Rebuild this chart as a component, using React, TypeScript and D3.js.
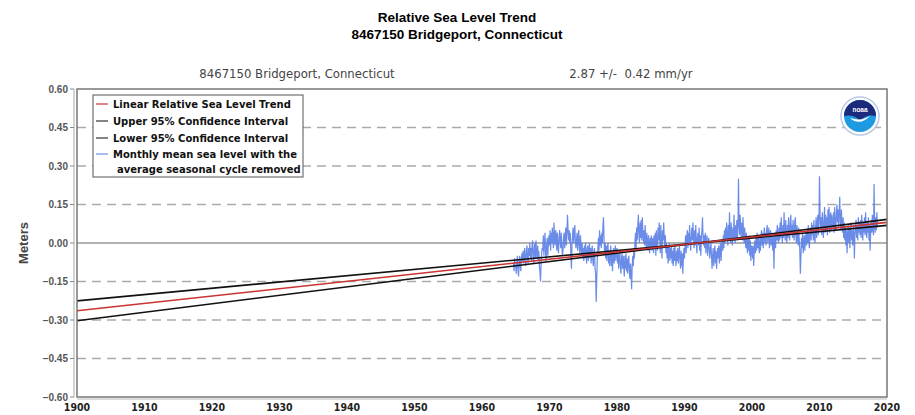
import React from "react";
import * as d3 from "d3";

const title1 = "Relative Sea Level Trend";
const title2 = "8467150 Bridgeport, Connecticut";
const subStation = "8467150 Bridgeport, Connecticut";
const subRate = "2.87 +/-  0.42 mm/yr";
const yTicks = [0.6, 0.45, 0.3, 0.15, 0, -0.15, -0.3, -0.45, -0.6];
const xTicks = [1900, 1910, 1920, 1930, 1940, 1950, 1960, 1970, 1980, 1990, 2000, 2010, 2020];
const legendLabels = [
  "Linear Relative Sea Level Trend",
  "Upper 95% Confidence Interval",
  "Lower 95% Confidence Interval",
  "Monthly mean sea level with the",
  "average seasonal cycle removed",
];

// trend: mm/yr, pivot year, value at pivot (m)
const trendRate = 2.87;
const trendCI = 0.42;
const trendPivotYear = 1992;
const trendPivotValue = 0.0;

// monthly mean sea level (cm), starting Sep 1964
const mslStart = 1964 + 8 / 12;
const msl1960s = [
  -8, -11, -6, -9,
  -9, -12, -7, -5, -10, -13, -8, -5, -9, -11, -6, -4,
  -7, -3, -8, -4, -2, -7, -9, -3, -1, -6, -8, -2,
  -5, 0, -6, -2, -7, -1, 1, -5, -8, -2, 0, -6,
  1, -4, -6, -1, -7, -3, -9, -11, -15, -8, -4, -2,
  -3, 3, -5, 0, 4, -4, -7, -1, 2, -5, 0, 3,
];
const msl1970s = [
  -1, 5, -3, 4, 0, 6, 1, -2, 8, 2, -1, 5,
  3, -3, 4, -1, -4, 2, 5, 1, -2, 4, -1, -5,
  -3, 2, 4, -2, 3, 6, -1, 4, 11, 5, 1, 5,
  0, 4, -5, -10, -1, 3, 6, 0, 4, 7, 1, -2,
  1, 4, -3, 2, 5, -2, -4, 3, -1, -5, 0, -6,
  -2, -7, -1, -6, 0, -5, -8, -2, -1, -7, -3, 0,
  -6, -2, -8, -3, -1, -7, -9, -3, -2, -10, -12, -23,
  -14, -6, -2, 2, -3, 5, -1, 3, -2, 4, 0, 7,
  10, 1, -4, 0, -6, -1, -7, -2, 0, -8, -3, -9,
  -4, -1, -9, -3, -11, -5, -2, -8, -4, -1, -7, -3,
];
const msl1980s = [
  -2, -8, -4, -10, -5, -3, -9, -12, -6, -4, -10, -5,
  -9, -13, -5, -10, -4, -11, -6, -12, -7, -5, -11, -14,
  -8, -12, -18, -9, -5, -9, -2, -6, 1, 4, -2, 6,
  1, 7, 11, 3, 0, 8, 2, 9, 1, 10, 4, 0,
  5, -1, 7, 1, -2, 4, 0, -3, 3, -1, -4, 2,
  -2, 3, -3, 1, 2, -4, 3, -2, 4, -5, 5, 0,
  -3, 6, 1, 8, 2, -4, 7, 0, -6, 5, 1, 8,
  2, -2, 3, -4, 0, -6, -1, -8, -3, 0, -7, -2,
  -6, -1, -8, -3, -9, -2, -7, -1, -6, -9, -3, -7,
  -2, -8, -4, -1, -7, -10, -3, -9, -4, -12, -6, -2,
];
const msl1990s = [
  -6, -1, 3, -4, 2, 5, -2, 4, -1, 7, 1, -3,
  2, 6, 1, 8, 2, -2, 5, -1, 7, 1, -4, 2,
  4, -1, 6, -3, 3, -5, 2, 5, 10, 2, -1, 3,
  -2, 4, -4, 1, 3, -5, 0, 2, -3, -6, -2, 0,
  -5, -10, -5, -2, -9, -4, -1, -8, -3, -10, -5, -2,
  -6, -1, -8, -3, 0, -7, -2, 1, -3, 3, -2, 5,
  0, 6, 1, 8, 2, -1, 7, 1, 12, 3, 0, 8,
  2, -1, 6, 1, 11, 3, 0, 7, 2, 9, 1, 6,
  25, 7, 3, 11, 5, 2, 8, 1, 10, 3, 0, 6,
  1, -2, 4, -1, -4, 2, -3, 3, -5, 1, -7, -1,
  ];
const msl2000s = [
  -2, -6, -1, -9, -3, 1, -4, 2, -3, 4, -2, 3,
  -1, -4, 2, -3, 3, 5, -1, 4, -2, 3, 6, 0,
  4, -1, 5, 7, 0, 3, 6, -2, 3, 5, -1, 4,
  0, -3, 3, -10, 1, 4, -2, 5, 1, 7, 2, 0,
  6, 1, 8, 2, 10, 3, 0, 7, 2, 12, 4, 1,
  9, 3, 0, 7, 2, 10, 4, 1, 8, 11, 3, 7,
  2, 9, 4, 1, 8, 10, 3, 0, 7, 2, -1, 6,
  1, -3, -12, -5, 2, -2, 4, -4, 1, 3, -3, 2,
  4, -1, 5, 0, 7, 1, -2, 4, 6, 1, 8, 3,
  7, 1, 9, 3, 0, 6, 10, 2, 7, 11, 3, 8,
];
const msl2010s = [
  26, 11, 5, 10, 3, 12, 6, 2, 9, 14, 4, 11,
  5, 10, 3, 13, 6, 14, 4, 10, 12, 5, 11, 7,
  6, 12, 4, 14, 7, 5, 11, 15, 8, 13, 6, 12,
  18, 8, 5, 13, 7, 4, 10, 2, 8, 1, 6, -1,
  5, -4, 3, 7, 0, 6, -2, 4, 8, 1, 5, -1,
  4, 7, -6, 3, 5, 9, 2, 7, 1, 10, 4, 8,
  3, 9, 2, 11, 5, 1, 8, 4, 10, 3, 12, 5,
  2, 8, 4, 10, 1, 7, -3, 5, 9, 4, 11, 6,
  3, 23, 7, 4, 10, 5, 12, 6,
];

const W = 915;
const H = 415;
const M = { left: 77, right: 887, top: 89, bottom: 397 };

function NoaaLogo({ cx, cy, r }: { cx: number; cy: number; r: number }) {
  return (
    <g>
      <circle cx={cx} cy={cy} r={r} fill="#ffffff" stroke="#b9c8e6" strokeWidth={1.5} />
      <circle cx={cx} cy={cy} r={r - 3} fill="#1e9be0" />
      <path
        d={`M ${cx - (r - 3)} ${cy} A ${r - 3} ${r - 3} 0 0 1 ${cx + (r - 3)} ${cy}
            Q ${cx + 6} ${cy - 2} ${cx} ${cy + 5} Q ${cx - 6} ${cy - 2} ${cx - (r - 3)} ${cy} Z`}
        fill="#1b2a7a"
      />
      <path
        d={`M ${cx - 10} ${cy + 2} Q ${cx} ${cy + 11} ${cx + 11} ${cy - 1} Q ${cx + 2} ${cy + 6} ${cx - 10} ${cy + 2} Z`}
        fill="#ffffff"
      />
      <text x={cx} y={cy - 4} textAnchor="middle" fontFamily="Arial, sans-serif" fontSize={6.5} fontWeight="bold" fill="#ffffff">
        noaa
      </text>
    </g>
  );
}

export default function App() {
  const x = d3.scaleLinear().domain([1900, 2020]).range([M.left, M.right]);
  const y = d3.scaleLinear().domain([-0.6, 0.6]).range([M.bottom, M.top]);

  const all = [...msl1960s, ...msl1970s, ...msl1980s, ...msl1990s, ...msl2000s, ...msl2010s];
  const series = all.map((v, i) => ({ t: mslStart + i / 12, v: v / 100 }));
  const line = d3
    .line<{ t: number; v: number }>()
    .x((d) => x(d.t))
    .y((d) => y(d.v));

  const trendAt = (t: number, rate: number) => trendPivotValue + (rate / 1000) * (t - trendPivotYear);
  const tl = d3.line<number>().x((t) => x(t)).y((t) => y(trendAt(t, trendRate)));
  const up = d3.line<number>().x((t) => x(t)).y((t) => y(trendAt(t, trendRate - trendCI)));
  const lo = d3.line<number>().x((t) => x(t)).y((t) => y(trendAt(t, trendRate + trendCI)));
  const ends = [1900, 2020];

  const yFmt = d3.format(".2f");
  const legendColors = ["#cc3333", "#333333", "#333333", "#6f8ff0"];
  const font = "Arial, 'Liberation Sans', sans-serif";
  const cond = "'DejaVu Sans Condensed', 'DejaVu Sans', sans-serif";

  return (
    <svg width={W} height={H} style={{ position: "absolute", left: 0, top: 0, background: "#fff" }}>
      <rect x={0} y={0} width={W} height={H} fill="#fff" />
      <text x={457} y={22} textAnchor="middle" fontFamily={font} fontWeight="bold" fontSize={13.5} fill="#000">
        {title1}
      </text>
      <text x={457} y={39} textAnchor="middle" fontFamily={font} fontWeight="bold" fontSize={13.5} fill="#000">
        {title2}
      </text>
      <text x={297} y={78} textAnchor="middle" fontFamily={cond} fontSize={13} fill="#444" style={{ fontStretch: "condensed" }}>
        {subStation}
      </text>
      <text x={631} y={78} textAnchor="middle" fontFamily={cond} fontSize={13} fill="#444" style={{ fontStretch: "condensed", whiteSpace: "pre" }}>
        {subRate}
      </text>

      {/* grid */}
      {yTicks.filter((v) => Math.abs(v) < 0.59).map((v) => (
        <line
          key={v}
          x1={M.left}
          x2={M.right}
          y1={y(v)}
          y2={y(v)}
          stroke={v === 0 ? "#999" : "#aaa"}
          strokeWidth={1.3}
          strokeDasharray={v === 0 ? undefined : "9,6"}
        />
      ))}

      {/* data */}
      <path d={line(series) || ""} fill="none" stroke="#5a7fe6" strokeWidth={1.2} strokeOpacity={0.9} />
      <path d={up(ends) || ""} fill="none" stroke="#111" strokeWidth={1.6} />
      <path d={lo(ends) || ""} fill="none" stroke="#111" strokeWidth={1.6} />
      <path d={tl(ends) || ""} fill="none" stroke="#cc3333" strokeWidth={1.6} />

      {/* frame */}
      <rect x={M.left} y={M.top} width={M.right - M.left} height={M.bottom - M.top} fill="none" stroke="#777" strokeWidth={1.5} />
      <line x1={M.left - 3} x2={M.left - 3} y1={M.top} y2={M.bottom} stroke="#aaa" strokeWidth={1} />
      <line x1={M.left} x2={M.right} y1={M.bottom + 2} y2={M.bottom + 2} stroke="#bbb" strokeWidth={1} />

      {/* y axis */}
      {yTicks.map((v) => (
        <g key={v}>
          <line x1={M.left - 7} x2={M.left - 3} y1={y(v)} y2={y(v)} stroke="#888" />
          <text x={M.left - 9} y={y(v) + 3.5} textAnchor="end" fontFamily={font} fontWeight="bold" fontSize={10} fill="#555">
            {yFmt(v)}
          </text>
        </g>
      ))}
      <text
        transform={`translate(28,${(M.top + M.bottom) / 2}) rotate(-90)`}
        textAnchor="middle"
        fontFamily={font}
        fontWeight="bold"
        fontSize={13}
        fill="#444"
      >
        Meters
      </text>

      {/* x axis */}
      {xTicks.map((t) => (
        <text key={t} x={x(t)} y={411} textAnchor="middle" fontFamily={cond} fontWeight="bold" fontSize={10.5} fill="#222" style={{ fontStretch: "condensed" }}>
          {t}
        </text>
      ))}

      {/* legend */}
      <rect x={93} y={95} width={210} height={82} fill="#fff" stroke="#555" strokeWidth={1} />
      {[0, 1, 2, 3].map((i) => {
        const ly = [104, 121, 138, 154][i];
        return (
          <line key={i} x1={96} x2={108} y1={ly} y2={ly} stroke={legendColors[i]} strokeWidth={1.2} />
        );
      })}
      {legendLabels.map((s, i) => (
        <text
          key={s}
          x={i === 4 ? 117 : 113}
          y={[108, 125, 142, 158, 173][i]}
          fontFamily="'DejaVu Sans', sans-serif"
          fontWeight="bold"
          fontSize={10}
          fill="#111"
        >
          {s}
        </text>
      ))}

      <NoaaLogo cx={860} cy={116} r={19} />
    </svg>
  );
}
